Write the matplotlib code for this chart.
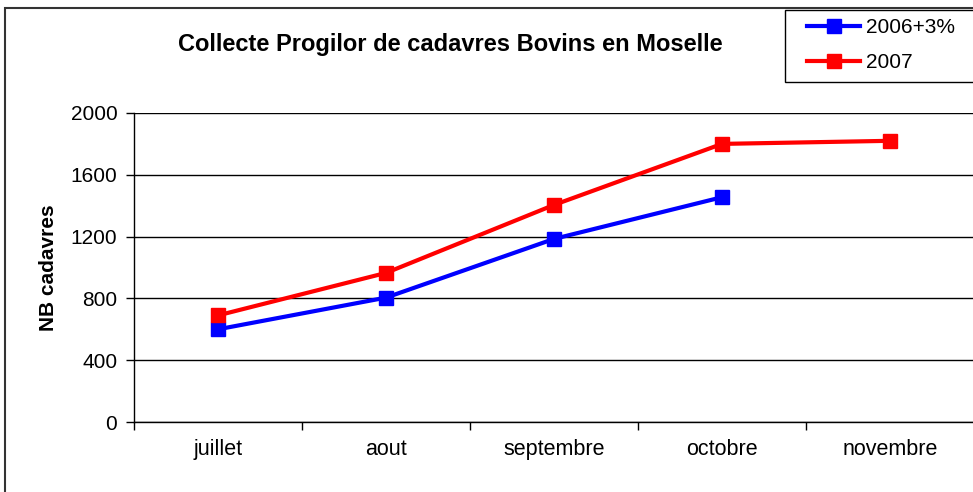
import matplotlib
matplotlib.use("Agg")
import matplotlib.pyplot as plt
from matplotlib.patches import Rectangle

plt.rcParams["font.family"] = ["Liberation Sans", "DejaVu Sans"]

months = ["juillet", "aout", "septembre", "octobre", "novembre"]
series_2006 = [600, 805, 1185, 1455]
series_2007 = [690, 965, 1405, 1800, 1820]
y_ticks = [0, 400, 800, 1200, 1600, 2000]

fig = plt.figure(figsize=(9.73, 4.92), dpi=100)
ax = fig.add_axes([134 / 973, 1 - 422 / 492, 840 / 973, 309 / 492])

x = list(range(len(months)))
ax.plot(x[:len(series_2006)], series_2006, color="#0000ff", linewidth=3,
        marker="s", markersize=9.5, label="2006+3%")
ax.plot(x[:len(series_2007)], series_2007, color="#ff0000", linewidth=3,
        marker="s", markersize=9.5, label="2007")

ax.set_xlim(-0.5, len(months) - 0.5)
ax.set_ylim(0, 2000)
ax.set_yticks(y_ticks)
ax.set_xticks(x)
ax.set_xticklabels(months)
ax.set_xticks([i - 0.5 for i in range(len(months) + 1)], minor=True)
ax.tick_params(axis="x", which="major", length=0, pad=12, labelsize=15.5)
ax.tick_params(axis="x", which="minor", length=6, width=1, direction="out")
ax.tick_params(axis="y", length=6, width=1, direction="out", pad=6, labelsize=15)
ax.grid(axis="y", color="#000000", linewidth=1)
ax.set_axisbelow(True)
for side in ["top", "right"]:
    ax.spines[side].set_visible(False)
for side in ["left", "bottom"]:
    ax.spines[side].set_linewidth(1)
    ax.spines[side].set_color("black")

ax.set_ylabel("NB cadavres", fontsize=15, fontweight="bold", labelpad=9)

fig.text(450 / 973, 1 - 45 / 492, "Collecte Progilor de cadavres Bovins en Moselle",
         ha="center", va="center", fontsize=17, fontweight="bold")

# legend box drawn by hand, entries placed inside it
fig.patches.append(Rectangle((785 / 973, 1 - 82 / 492), 200 / 973, 72 / 492,
                             transform=fig.transFigure, fill=True,
                             facecolor="white", edgecolor="black", linewidth=1))
fig.legend(loc="upper left", bbox_to_anchor=(807 / 973, 1 - 18 / 492),
           borderaxespad=0, borderpad=0, fontsize=15, frameon=False,
           handlelength=2.55, labelspacing=0.77, handletextpad=0.3)

fig.patches.append(Rectangle((5 / 973, -0.1), 2, 1.1 - 8 / 492,
                             transform=fig.transFigure, fill=False,
                             edgecolor="#333333", linewidth=1.5))

fig.savefig("out.png", dpi=100)
